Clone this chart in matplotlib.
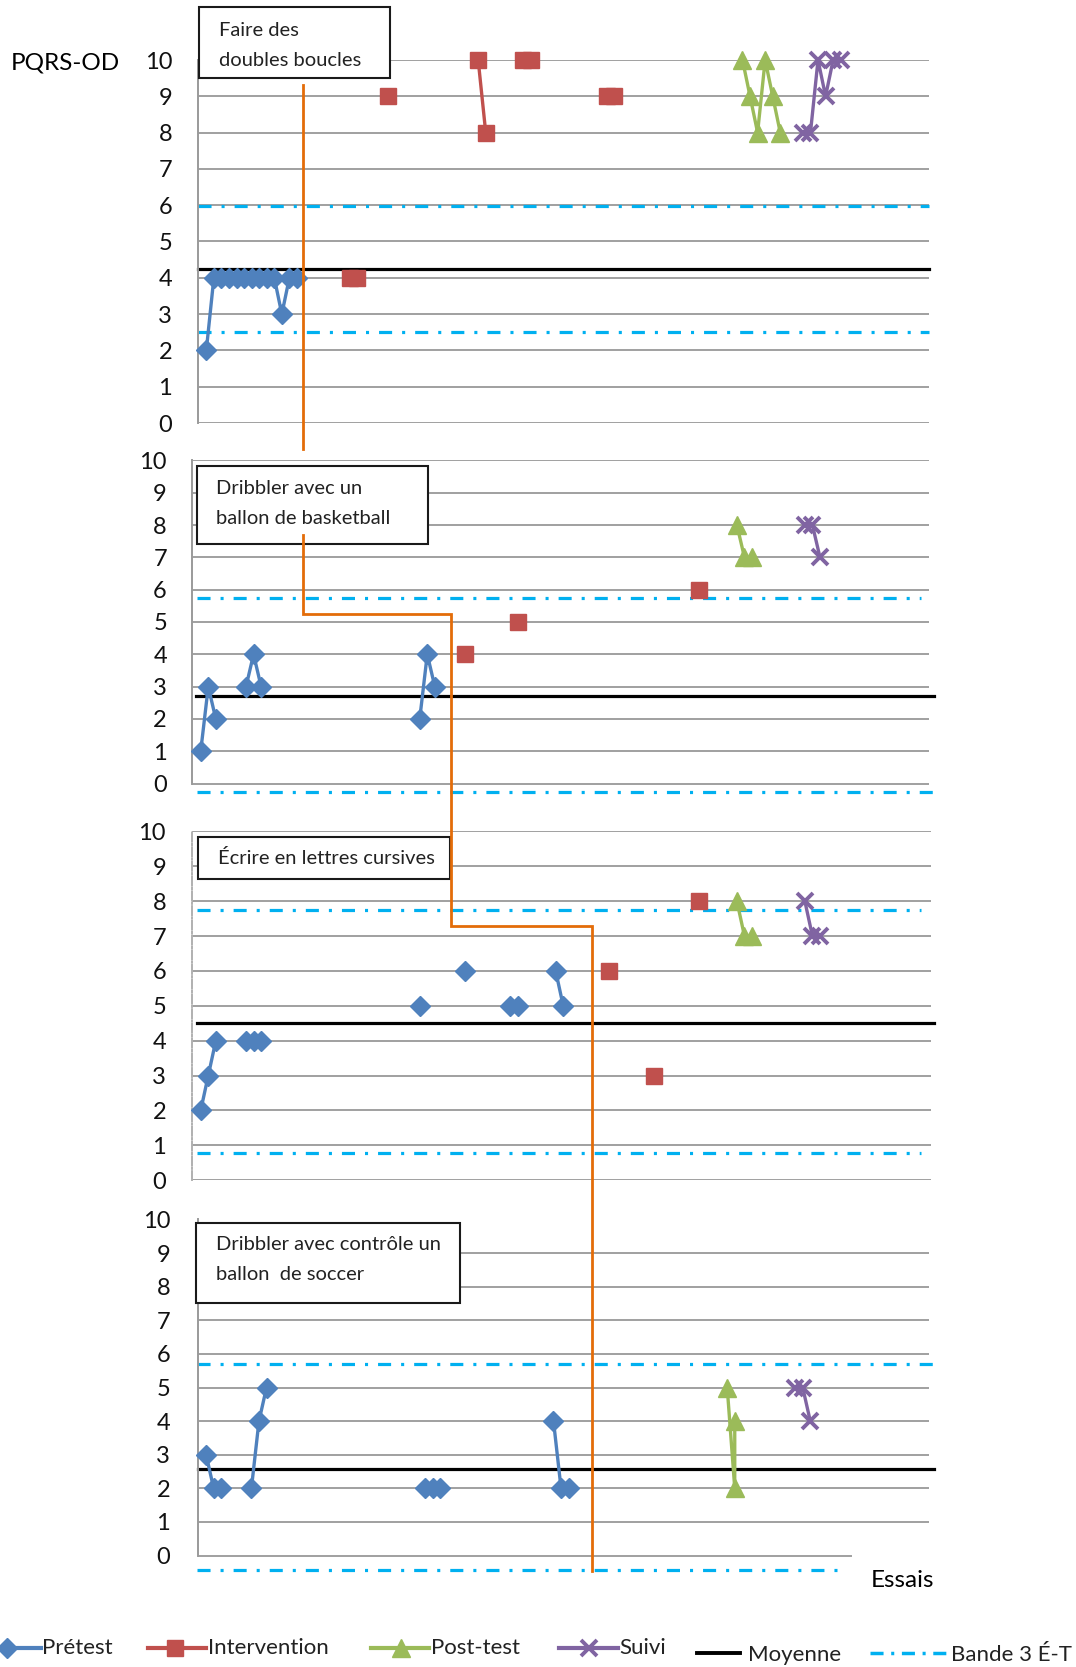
import matplotlib
matplotlib.use("Agg")
import matplotlib.pyplot as plt
from matplotlib.lines import Line2D
from matplotlib.patches import Rectangle

plt.rcParams['font.family'] = ['Lato', 'DejaVu Sans']
plt.rcParams['lines.scale_dashes'] = False

# ---------------- data ----------------
y_ticks = list(range(0, 11))
y_label = "PQRS-OD"
x_label = "Essais"
series_names = ["Prétest", "Intervention", "Post-test", "Suivi"]
line_names = ["Moyenne", "Bande 3 É-T"]

panel_titles = [
    ["Faire des", "doubles boucles"],
    ["Dribbler avec un", "ballon de basketball"],
    ["Écrire en lettres cursives"],
    ["Dribbler avec contrôle un", "ballon  de soccer"],
]

# Panel 1 : Faire des doubles boucles
p1_pre_x = [1, 2, 3, 4, 5, 6, 7, 8, 9, 10, 11, 12, 13]
p1_pre_y = [2, 4, 4, 4, 4, 4, 4, 4, 4, 4, 3, 4, 4]
p1_int_x = [20, 21, 25, 37, 38, 43, 44, 54, 55]
p1_int_y = [4, 4, 9, 10, 8, 10, 10, 9, 9]
p1_post_x = [72, 73, 74, 75, 76, 77]
p1_post_y = [10, 9, 8, 10, 9, 8]
p1_fu_x = [80, 81, 82, 83, 84, 85]
p1_fu_y = [8, 8, 10, 9, 10, 10]
p1_mean = 4.23
p1_band = [5.97, 2.52]

# Panel 2 : Dribbler avec un ballon de basketball
p2_pre_x = [1, 2, 3, 7, 8, 9, 30, 31, 32]
p2_pre_y = [1, 3, 2, 3, 4, 3, 2, 4, 3]
p2_int_x = [36, 43, 67]
p2_int_y = [4, 5, 6]
p2_post_x = [72, 73, 74]
p2_post_y = [8, 7, 7]
p2_fu_x = [81, 82, 83]
p2_fu_y = [8, 8, 7]
p2_mean = 2.70
p2_band = [5.73, -0.25]

# Panel 3 : Écrire en lettres cursives
p3_pre_x = [1, 2, 3, 7, 8, 9, 30, 36, 42, 43, 48, 49]
p3_pre_y = [2, 3, 4, 4, 4, 4, 5, 6, 5, 5, 6, 5]
p3_int_x = [55, 61, 67]
p3_int_y = [6, 3, 8]
p3_post_x = [72, 73, 74]
p3_post_y = [8, 7, 7]
p3_fu_x = [81, 82, 83]
p3_fu_y = [8, 7, 7]
p3_mean = 4.51
p3_band = [7.75, 0.77]

# Panel 4 : Dribbler avec contrôle un ballon de soccer
p4_pre_x = [1, 2, 3, 7, 8, 9, 30, 31, 32, 47, 48, 49]
p4_pre_y = [3, 2, 2, 2, 4, 5, 2, 2, 2, 4, 2, 2]
p4_int_x = []
p4_int_y = []
p4_post_x = [70, 71, 71]
p4_post_y = [5, 2, 4]
p4_fu_x = [79, 80, 81]
p4_fu_y = [5, 5, 4]
p4_mean = 2.58
p4_band = [5.70, -0.44]

# phase-change positions (trial units) and step heights (score units)
phase_x = [13.8, 34.1, 52.8]
phase_step_y = [5.26, 7.29]

# ---------------- styles ----------------
W, H = 1076, 1667
PPT = 7.552  # pixels per trial
C_PRE, C_INT, C_POST, C_FU = '#4F81BD', '#C0504D', '#9BBB59', '#8064A2'
C_BAND = '#00B0F0'
C_GRID = '#a0a0a0'
BAND_DASH = (9.4, 7.2, 2.2, 7.2)

styles = [
    dict(color=C_PRE, marker='D', ms=10, lw=2.4),
    dict(color=C_INT, marker='s', ms=11, lw=2.4),
    dict(color=C_POST, marker='^', ms=12.5, lw=2.4),
    dict(color=C_FU, marker='x', ms=11, mew=2.8, lw=2.4),
]

fig = plt.figure(figsize=(W / 100, H / 100), dpi=100)

panels = [
    dict(series=[(p1_pre_x, p1_pre_y), (p1_int_x, p1_int_y), (p1_post_x, p1_post_y), (p1_fu_x, p1_fu_y)],
         mean=p1_mean, band=p1_band,
         left=198, right=929, y10=60, y0=423, lo=0, pad=18.7,
         mean_ext=(198, 929), up_ext=(198, 929), low_ext=(198, 929), grid0_end=929,
         spine_ls='-', box=(199, 7, 390, 78), txt_x=219, txt_y=[30, 60]),
    dict(series=[(p2_pre_x, p2_pre_y), (p2_int_x, p2_int_y), (p2_post_x, p2_post_y), (p2_fu_x, p2_fu_y)],
         mean=p2_mean, band=p2_band,
         left=192.4, right=929, y10=460.4, y0=783.6, lo=-0.5, pad=18.3,
         mean_ext=(196, 934), up_ext=(197, 921), low_ext=(197, 934), grid0_end=929,
         spine_ls='-', box=(197, 466, 428, 544), txt_x=216, txt_y=[488, 518]),
    dict(series=[(p3_pre_x, p3_pre_y), (p3_int_x, p3_int_y), (p3_post_x, p3_post_y), (p3_fu_x, p3_fu_y)],
         mean=p3_mean, band=p3_band,
         left=192.4, right=931, y10=831.4, y0=1180.2, lo=0, pad=19.0,
         mean_ext=(197, 934), up_ext=(197, 921), low_ext=(197, 921), grid0_end=931,
         spine_ls='-.', box=(198, 837, 450, 879), txt_x=218, txt_y=[858]),
    dict(series=[(p4_pre_x, p4_pre_y), (p4_int_x, p4_int_y), (p4_post_x, p4_post_y), (p4_fu_x, p4_fu_y)],
         mean=p4_mean, band=p4_band,
         left=197.8, right=929, y10=1219.5, y0=1555.5, lo=-0.6, pad=20.0,
         mean_ext=(198, 934), up_ext=(197, 935), low_ext=(197, 845), grid0_end=851,
         spine_ls='-', box=(196, 1223, 460, 1303), txt_x=216, txt_y=[1244, 1274]),
]


def runs(xs, ys):
    out, cx, cy = [], [], []
    for x, y in zip(xs, ys):
        if cx and x - cx[-1] > 1:
            out.append((cx, cy))
            cx, cy = [], []
        cx.append(x)
        cy.append(y)
    if cx:
        out.append((cx, cy))
    return out


axes = []
for p, title in zip(panels, panel_titles):
    ppu = (p['y0'] - p['y10']) / 10.0
    bottom = p['y0'] - p['lo'] * ppu
    wpx = p['right'] - p['left']
    ax = fig.add_axes([p['left'] / W, 1 - bottom / H, wpx / W, (bottom - p['y10']) / H])
    ax.set_xlim(-0.1, -0.1 + wpx / PPT)
    ax.set_ylim(p['lo'], 10)
    ax.patch.set_alpha(0)
    for s in ['top', 'right', 'bottom']:
        ax.spines[s].set_visible(False)
    ax.spines['left'].set_bounds(0, 10)
    ax.spines['left'].set_color('#9a9a9a' if p['spine_ls'] == '-' else '#b0b0b0')
    ax.spines['left'].set_linewidth(1.4)
    ax.spines['left'].set_linestyle(p['spine_ls'])
    ax.set_xticks([])
    ax.set_yticks(y_ticks)
    ax.set_yticklabels([str(t) for t in y_ticks])
    ax.tick_params(axis='y', length=0, pad=p['pad'], labelsize=17, labelcolor='#111111')

    def frac(px, p=p, wpx=wpx):
        return (px - p['left']) / wpx

    for lv in y_ticks:
        end = p['grid0_end'] if lv == 0 else p['right']
        ax.axhline(lv, 0, frac(end), color=C_GRID, lw=1.4, zorder=1)

    ax.axhline(p['mean'], frac(p['mean_ext'][0]), frac(p['mean_ext'][1]),
               color='black', lw=2.3, zorder=2, clip_on=False)
    for val, ext in zip(p['band'], [p['up_ext'], p['low_ext']]):
        ax.axhline(val, frac(ext[0]), frac(ext[1]), color=C_BAND, lw=2.3,
                   dashes=BAND_DASH, dash_capstyle='butt', zorder=2, clip_on=False)

    for (xs, ys), st in zip(p['series'], styles):
        for rx, ry in runs(xs, ys):
            ax.plot(rx, ry, linestyle='-', clip_on=False, zorder=4,
                    markeredgecolor=st['color'], markerfacecolor=st['color'], **st)

    # title box
    x0, yt, x1, yb = p['box']
    fig.add_artist(Rectangle((x0 / W, 1 - yb / H), (x1 - x0) / W, (yb - yt) / H,
                             transform=fig.transFigure, facecolor='white',
                             edgecolor='#1a1a1a', lw=1.5, zorder=5))
    for line, ty in zip(title, p['txt_y']):
        fig.text(p['txt_x'] / W, 1 - ty / H, line, fontsize=14.5, color='#222222',
                 ha='left', va='center', zorder=6)
    axes.append(ax)

# ---------------- phase-change line ----------------
inv = fig.transFigure.inverted()


def disp(ax, x, y):
    return ax.transData.transform((x, y))


ax1, ax2, ax3, ax4 = axes
xA = disp(ax1, phase_x[0], 0)[0]
box1_bottom = panels[0]['box'][3]
box2_bottom = panels[1]['box'][3]
segA = [(xA, (H - box1_bottom - 7)), (xA, disp(ax1, 0, -0.72)[1])]
y_s2 = disp(ax2, 0, phase_step_y[0])[1]
x_s2 = disp(ax2, phase_x[1], 0)[0]
y_s3 = disp(ax3, 0, phase_step_y[1])[1]
x_s3 = disp(ax3, phase_x[2], 0)[0]
y_end = disp(ax4, 0, -0.46)[1]
segB = [(xA, H - box2_bottom + 9), (xA, y_s2), (x_s2, y_s2), (x_s2, y_s3), (x_s3, y_s3), (x_s3, y_end)]
for seg in (segA, segB):
    pts = [inv.transform(pt) for pt in seg]
    fig.add_artist(Line2D([q[0] for q in pts], [q[1] for q in pts], transform=fig.transFigure,
                          color='#E36C09', lw=2.0, zorder=7, solid_joinstyle='miter'))

# ---------------- labels ----------------
fig.text(11 / W, 1 - 63 / H, y_label, fontsize=17.5, ha='left', va='center', color='black')
fig.text(871 / W, 1 - 1580 / H, x_label, fontsize=17.5, ha='left', va='center', color='black')

# ---------------- legend ----------------
LEG_FS = 16
leg_items = [
    (series_names[0], styles[0], (0, 41), 7, 1648, 42),
    (series_names[1], styles[1], (148, 206), 175, 1648, 208),
    (series_names[2], styles[2], (371, 429), 401, 1648, 431),
    (series_names[3], styles[3], (559, 618), 589, 1648, 619),
]
for name, st, (lx0, lx1), mx, ly, tx in leg_items:
    fig.add_artist(Line2D([lx0 / W, lx1 / W], [1 - ly / H] * 2, transform=fig.transFigure,
                          color=st['color'], lw=3.0))
    fig.add_artist(Line2D([mx / W], [1 - ly / H], transform=fig.transFigure, color=st['color'],
                          marker=st['marker'], ms=st['ms'], mew=st.get('mew', 1),
                          markerfacecolor=st['color'], markeredgecolor=st['color'], linestyle='none'))
    fig.text(tx / W, 1 - ly / H, name, fontsize=LEG_FS, ha='left', va='center', color='#222222')

fig.add_artist(Line2D([697 / W, 740 / W], [1 - 1653 / H] * 2, transform=fig.transFigure,
                      color='black', lw=2.8))
fig.text(748 / W, 1 - 1655 / H, line_names[0], fontsize=LEG_FS, ha='left', va='center', color='#222222')
fig.add_artist(Line2D([870 / W, 947 / W], [1 - 1653 / H] * 2, transform=fig.transFigure,
                      color=C_BAND, lw=2.5, dashes=(9.4, 5.5, 2.2, 5.5), dash_capstyle='butt'))
fig.text(951 / W, 1 - 1655 / H, line_names[1], fontsize=LEG_FS, ha='left', va='center', color='#222222')

fig.savefig("out.png", dpi=100, facecolor='white')
